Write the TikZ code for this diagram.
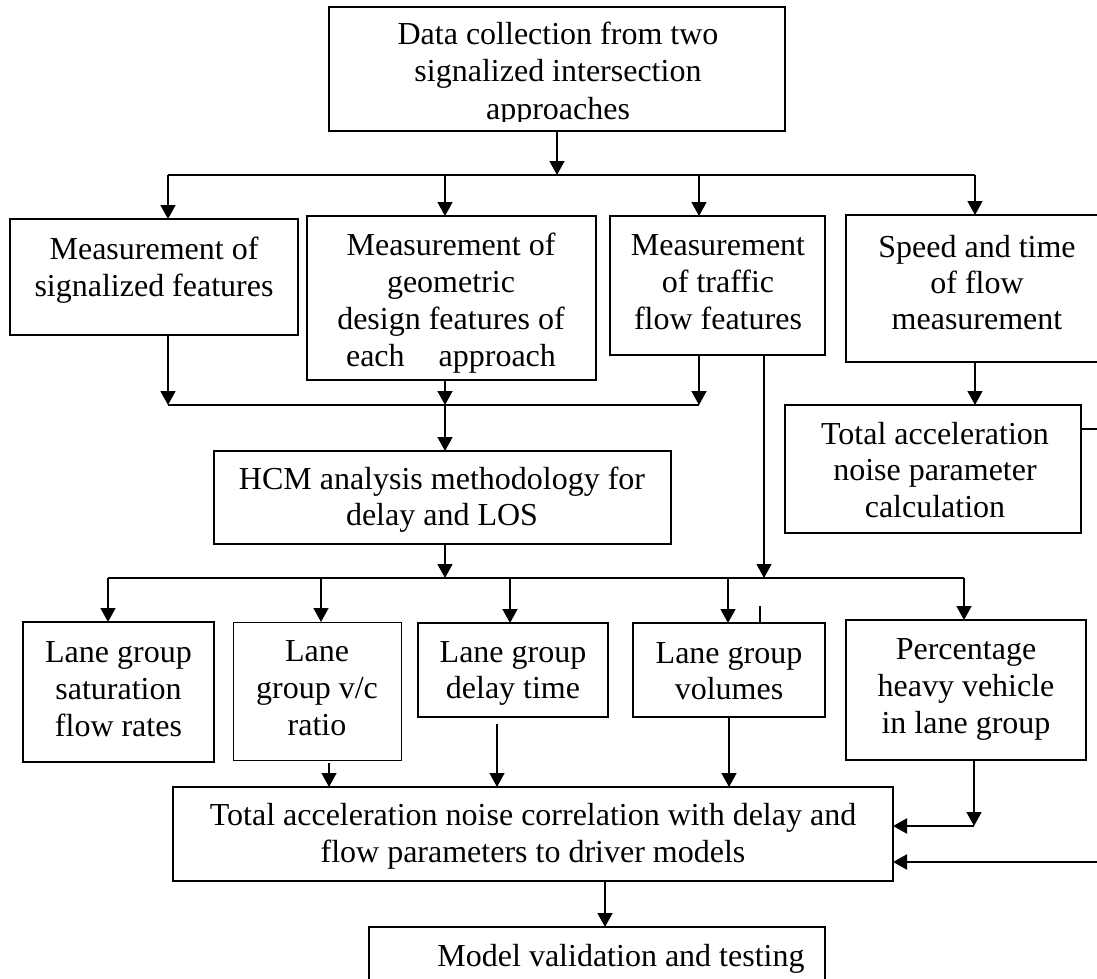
\documentclass[tikz,border=0pt]{standalone}
\usepackage{fontspec}
\setmainfont{Liberation Serif}
\usetikzlibrary{arrows.meta}
\newcommand\firstln{\rule{0pt}{25pt}}
\begin{document}
\begin{tikzpicture}[x=1pt,y=-1pt,
  box/.style={draw, line width=1.5pt, inner sep=0pt, outer sep=0pt},
  thinbox/.style={draw, line width=1pt, inner sep=0pt, outer sep=0pt},
  txt/.style={align=center, inner sep=0pt, anchor=north, font=\fontsize{32}{37}\selectfont},
  arr/.style={-{Triangle[length=14pt,width=15pt]}, line width=1.5pt},
  ln/.style={line width=1.5pt}]
\fill[white] (0,0) rectangle (1097,979);
\useasboundingbox (0,0) rectangle (1097,979);

% boxes
\node[box, minimum width=456pt, minimum height=124pt] (T) at (557,69) {};
\node[box, minimum width=288pt, minimum height=116pt] (A) at (154,277) {};
\node[box, minimum width=289pt, minimum height=164pt] (B) at (451.5,298) {};
\node[box, minimum width=215pt, minimum height=139pt] (C) at (717.5,285.5) {};
\node[box, minimum width=264pt, minimum height=147pt] (D) at (978,288.5) {};
\node[box, minimum width=457pt, minimum height=93pt] (H) at (442.5,497.5) {};
\node[box, minimum width=296pt, minimum height=128pt] (P) at (933,469) {};
\node[box, minimum width=191pt, minimum height=140pt] (L1) at (118.5,692) {};
\node[thinbox, minimum width=168pt, minimum height=138pt] (L2) at (317,691) {};
\node[box, minimum width=190pt, minimum height=94pt] (L3) at (513,670) {};
\node[box, minimum width=192pt, minimum height=94pt] (L4) at (729,670) {};
\node[box, minimum width=240pt, minimum height=140pt] (L5) at (966,690) {};
\node[box, minimum width=720pt, minimum height=94pt] (TC) at (533,834) {};
\node[box, minimum width=456pt, minimum height=73pt] (M) at (597,963.5) {};

% texts
\begin{scope}
\clip (330,0) rectangle (784,121.5);
\node[txt, font=\fontsize{32}{37.5}\selectfont] (tT) at (558,19) {\firstln Data collection from two\\signalized intersection\\approaches};
\end{scope}
\node[txt] (tA) at (154,234) {\firstln Measurement of\\signalized features};
\node[txt] (tB) at (451,230) {\firstln Measurement of\\geometric\\design features of\\each\hspace{34pt}approach};
\node[txt] (tC) at (718,230) {\firstln Measurement\\of traffic\\flow features};
\node[txt, font=\fontsize{32}{36}\selectfont] (tD) at (977,232) {\firstln Speed and time\\of flow\\measurement};
\node[txt, font=\fontsize{32}{36}\selectfont] (tH) at (442,464) {\firstln HCM analysis methodology for\\delay and LOS};
\node[txt, font=\fontsize{32}{36.5}\selectfont] (tP) at (935,419) {\firstln Total acceleration\\noise parameter\\calculation};
\node[txt] (tL1) at (118.5,637) {\firstln Lane group\\saturation\\flow rates};
\node[txt] (tL2) at (317,636) {\firstln Lane\\group v/c\\ratio};
\node[txt, font=\fontsize{32}{36}\selectfont] (tL3) at (513,637) {\firstln Lane group\\delay time};
\node[txt, font=\fontsize{32}{36}\selectfont] (tL4) at (729,638) {\firstln Lane group\\volumes};
\node[txt] (tL5) at (966,634) {\firstln Percentage\\heavy vehicle\\in lane group};
\node[txt] (tTC) at (533,800) {\firstln Total acceleration noise correlation with delay and\\flow parameters to driver models};
\node[txt] (tM) at (621,941) {\firstln Model validation and testing};

% junction coordinates
\coordinate (j1) at (557,175);
\coordinate (b1L) at (168,175);
\coordinate (b1B) at (445,175);
\coordinate (b1C) at (699,175);
\coordinate (b1R) at (975,175);
\coordinate (b2A) at (168,405);
\coordinate (b2B) at (445,405);
\coordinate (b2C) at (699,405);
\coordinate (b3L) at (108,578);
\coordinate (b3H) at (445,578);
\coordinate (b3v) at (321,578);
\coordinate (b3d) at (510,578);
\coordinate (b3w) at (728,578);
\coordinate (b3C) at (764,578);
\coordinate (b3R) at (964,578);
\coordinate (tk) at (760,606);
\coordinate (pR) at (1097,429);
\coordinate (eR) at (1097,862);
\coordinate (c5) at (974,826);
\coordinate (a2) at (329,763);
\coordinate (a3) at (497,724);
\coordinate (a5) at (605,0);

% connectors
\draw[arr] (T.south) -- (j1);
\draw[ln] (b1L) -- (b1R);
\draw[arr] (b1L) -- (b1L |- A.north);
\draw[arr] (b1B) -- (b1B |- B.north);
\draw[arr] (b1C) -- (b1C |- C.north);
\draw[arr] (b1R) -- (b1R |- D.north);

\draw[arr] (b2A |- A.south) -- (b2A);
\draw[arr] (b2B |- B.south) -- (b2B);
\draw[arr] (b2C |- C.south) -- (b2C);
\draw[ln] (b2A) -- (b2C);
\draw[arr] (b2B) -- (b2B |- H.north);

\draw[arr] (b3H |- H.south) -- (b3H);
\draw[ln] (b3L) -- (b3R);
\draw[arr, line width=1.2pt] (b3C |- C.south) -- (b3C);
\draw[arr] (b3L) -- (b3L |- L1.north);
\draw[arr] (b3v) -- (b3v |- L2.north);
\draw[arr] (b3d) -- (b3d |- L3.north);
\draw[arr] (b3w) -- (b3w |- L4.north);
\draw[arr] (b3R) -- (b3R |- L5.north);
\draw[ln, line width=1.2pt] (tk |- L4.north) -- (tk);

\draw[arr] (b1R |- D.south) -- (b1R |- P.north);
\draw[ln] (P.east |- pR) -- (pR);
\draw[arr, line width=2pt] (eR) -- (TC.east |- eR);

\draw[arr] (c5 |- L5.south) -- (c5);
\draw[arr, line width=2pt] (c5) -- (TC.east |- c5);
\draw[arr, line width=1.2pt] (a2) -- (a2 |- TC.north);
\draw[arr, line width=1.2pt] (a3) -- (a3 |- TC.north);
\draw[arr] (L4.south) -- (L4.south |- TC.north);
\draw[arr] (a5 |- TC.south) -- (a5 |- M.north);
\end{tikzpicture}
\end{document}
